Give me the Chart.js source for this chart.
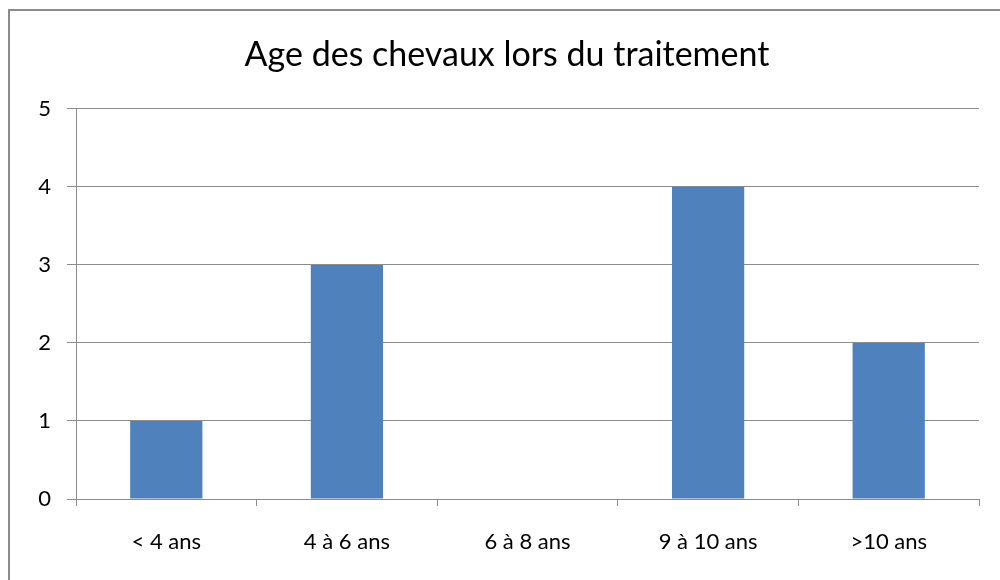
<!DOCTYPE html>
<html>
	<head>
		<title>Age des chevaux</title>
		<script src="https://cdnjs.cloudflare.com/ajax/libs/Chart.js/4.4.1/chart.umd.min.js"></script>
		<style>
			body { margin: 0; background: #fff; }
			.chart-container { width: 1000px; height: 580px; }
		</style>
	</head>
	<body>
		<div class="chart-container">
			<canvas id="barChart" width="1000" height="580"></canvas>
		</div>
		<script>
			const categories = ["< 4 ans", "4 à 6 ans", "6 à 8 ans", "9 à 10 ans", ">10 ans"];
			const counts = [1, 3, 0, 4, 2];
			const yTicks = [0, 1, 2, 3, 4, 5];

			// outer frame like the spreadsheet export
			const framePlugin = {
				id: "frame",
				afterDraw(chart) {
					const c = chart.ctx;
					c.save();
					c.strokeStyle = "#8c8c8c";
					c.lineWidth = 2;
					c.strokeRect(9, 10, 1100, 1000);
					c.restore();
				},
			};

			new Chart(document.getElementById("barChart"), {
				type: "bar",
				data: {
					labels: categories,
					datasets: [
						{
							data: counts,
							backgroundColor: "#4f81bd",
							categoryPercentage: 1,
							barPercentage: 0.4,
						},
					],
				},
				options: {
					responsive: false,
					animation: false,
					// left padding keeps the title centred where the original has it
					layout: { padding: { left: 35, right: 21, top: 0, bottom: 0 } },
					plugins: {
						legend: { display: false },
						tooltip: { enabled: false },
						title: {
							display: true,
							text: "Age des chevaux lors du traitement",
							color: "#000",
							font: { family: "Lato", size: 34, weight: "normal" },
							padding: { top: 35, bottom: 33 },
						},
					},
					scales: {
						x: {
							afterFit(scale) { scale.height = 81; },
							grid: {
								offset: true,
								drawOnChartArea: false,
								color: "#8c8c8c",
								tickLength: 7,
							},
							border: { color: "#8c8c8c", width: 1 },
							ticks: {
								color: "#000",
								font: { family: "Lato", size: 22 },
								padding: 23,
								maxRotation: 0,
								autoSkip: false,
							},
						},
						y: {
							min: 0,
							max: 5,
							afterFit(scale) { scale.width = 41; },
							afterBuildTicks(scale) { scale.ticks = yTicks.map((v) => ({ value: v })); },
							grid: { color: "#8c8c8c", tickLength: 9 },
							border: { color: "#8c8c8c", width: 1 },
							ticks: {
								color: "#000",
								font: { family: "Lato", size: 22 },
								padding: 16,
							},
						},
					},
				},
				plugins: [framePlugin],
			});
		</script>
	</body>
</html>
